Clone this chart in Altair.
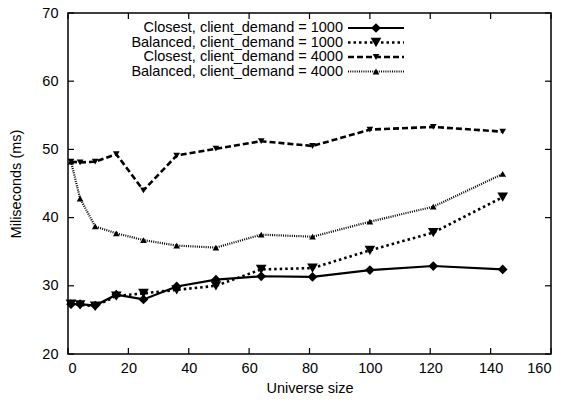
import altair as alt
import pandas as pd

# Universe sizes (perfect squares) on the x axis
universe_size = [1, 4, 9, 16, 25, 36, 49, 64, 81, 100, 121, 144]

# Latency in milliseconds for each strategy / client demand
closest_1000 = [27.3, 27.3, 27.1, 28.7, 28.0, 29.9, 30.9, 31.4, 31.3, 32.3, 32.9, 32.4]
balanced_1000 = [27.3, 27.2, 27.0, 28.5, 28.9, 29.4, 30.0, 32.4, 32.6, 35.2, 37.8, 43.0]
closest_4000 = [48.2, 48.1, 48.2, 49.3, 44.0, 49.1, 50.1, 51.2, 50.5, 52.9, 53.3, 52.6]
balanced_4000 = [48.2, 42.8, 38.7, 37.7, 36.7, 35.9, 35.6, 37.5, 37.2, 39.4, 41.6, 46.4]

series_labels = [
    "Closest, client_demand = 1000",
    "Balanced, client_demand = 1000",
    "Closest, client_demand = 4000",
    "Balanced, client_demand = 4000",
]

x_ticks = [0, 20, 40, 60, 80, 100, 120, 140, 160]
y_ticks = [20, 30, 40, 50, 60, 70]

W, H = 483, 341
FONT = "Liberation Sans"
FS = 14.5

# line style per series: (values, dash, line width, marker shape, marker size)
styles = [
    (closest_1000, None, 2.2, "diamond", 95),
    (balanced_1000, [2.5, 3], 2.6, "triangle-down", 115),
    (closest_4000, [6, 3], 2.6, "triangle-down", 45),
    (balanced_4000, [1, 1.2], 2.2, "triangle-up", 45),
]

x_scale = alt.Scale(domain=[0, 160], nice=False, zero=False)
y_scale = alt.Scale(domain=[20, 70], nice=False, zero=False)

layers = []

# axes carrying only labels and titles; the frame comes from the view stroke
base_axes = alt.Chart(pd.DataFrame({"x": [0], "y": [20]})).mark_point(opacity=0).encode(
    x=alt.X("x:Q", scale=x_scale,
            axis=alt.Axis(values=x_ticks, title="Universe size", ticks=False, tickSize=0,
                          domain=False, grid=False, labelPadding=7, titlePadding=7,
                          format="d")),
    y=alt.Y("y:Q", scale=y_scale,
            axis=alt.Axis(values=y_ticks, title="Miliseconds (ms)", ticks=False, tickSize=0,
                          domain=False, grid=False, labelPadding=10, titlePadding=18,
                          format="d")),
)
layers.append(base_axes)

# inward tick marks on all four sides
xt = pd.DataFrame({"t": x_ticks})
yt = pd.DataFrame({"t": y_ticks})
TL = 6
for y0, y1 in [(H, H - TL), (0, TL)]:
    layers.append(alt.Chart(xt).mark_rule(color="black", strokeWidth=1.2).encode(
        x=alt.X("t:Q", scale=x_scale), y=alt.value(y0), y2=alt.value(y1)))
for x0, x1 in [(0, TL), (W, W - TL)]:
    layers.append(alt.Chart(yt).mark_rule(color="black", strokeWidth=1.2).encode(
        y=alt.Y("t:Q", scale=y_scale), x=alt.value(x0), x2=alt.value(x1)))

# data series
for label, (vals, dash, lw, shape, msize) in zip(series_labels, styles):
    df = pd.DataFrame({"size": universe_size, "ms": vals})
    line_kw = dict(color="black", strokeWidth=lw)
    if dash:
        line_kw["strokeDash"] = dash
    enc = dict(x=alt.X("size:Q", scale=x_scale), y=alt.Y("ms:Q", scale=y_scale))
    layers.append(alt.Chart(df).mark_line(**line_kw).encode(**enc))
    layers.append(alt.Chart(df).mark_point(shape=shape, size=msize, filled=True,
                                           color="black", opacity=1).encode(**enc))

# key in the upper left: label, then line sample with marker
row_y = [15, 29.5, 44, 58.5]
text_right, sample_x0, sample_x1 = 275, 280, 336
for label, (vals, dash, lw, shape, msize), ry in zip(series_labels, styles, row_y):
    ldf = pd.DataFrame({"label": [label]})
    layers.append(alt.Chart(ldf).mark_text(align="right", baseline="middle", font=FONT,
                                           fontSize=FS, color="black").encode(
        text="label:N", x=alt.value(text_right), y=alt.value(ry)))
    rule_kw = dict(color="black", strokeWidth=lw)
    if dash:
        rule_kw["strokeDash"] = dash
    layers.append(alt.Chart(ldf).mark_rule(**rule_kw).encode(
        x=alt.value(sample_x0), x2=alt.value(sample_x1), y=alt.value(ry)))
    layers.append(alt.Chart(ldf).mark_point(shape=shape, size=msize, filled=True,
                                            color="black", opacity=1).encode(
        x=alt.value((sample_x0 + sample_x1) / 2), y=alt.value(ry)))

chart = alt.layer(*layers).properties(
    width=W, height=H,
    padding={"left": 68, "top": 13, "right": 13, "bottom": 49},
    autosize=alt.AutoSizeParams(type="none"),
    background="white",
).configure_view(
    stroke="black", strokeWidth=1.5
).configure_axis(
    labelFont=FONT, labelFontSize=FS, labelColor="black",
    titleFont=FONT, titleFontSize=FS, titleColor="black", titleFontWeight="normal",
)

chart.save("out.html", embed_options={"renderer": "svg", "actions": False})
